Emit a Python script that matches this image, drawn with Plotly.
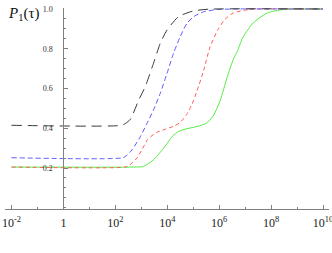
import plotly.graph_objects as go

# log10(tau) exponents and P1 values
black_exp = [-2, 2.25, 2.4, 2.58, 2.9, 3.15, 3.47, 3.73, 3.99, 4.43, 5.0, 5.6, 10]
black_p = [0.415, 0.415, 0.425, 0.445, 0.542, 0.609, 0.727, 0.827, 0.894, 0.961, 0.99, 0.999, 1.0]

blue_exp = [-2, 2.3, 2.45, 2.64, 2.96, 3.22, 3.47, 3.73, 3.99, 4.24, 4.5, 4.76, 5.01, 5.4, 5.91, 6.6, 10]
blue_p = [0.252, 0.252, 0.265, 0.291, 0.357, 0.425, 0.492, 0.576, 0.676, 0.777, 0.861, 0.928, 0.961, 0.986, 0.997, 1.0, 1.0]

red_exp = [-2, 2.38, 2.55, 2.83, 3.04, 3.25, 3.6, 3.92, 4.25, 4.5, 4.75, 4.95, 5.15, 5.4, 5.65, 5.97, 6.2, 6.54, 7.19, 8, 10]
red_p = [0.205, 0.205, 0.215, 0.25, 0.296, 0.345, 0.38, 0.395, 0.41, 0.43, 0.47, 0.52, 0.59, 0.69, 0.81, 0.9, 0.945, 0.98, 0.998, 1.0, 1.0]

green_exp = [-2, 2.7, 3.08, 3.46, 3.86, 4.2, 4.45, 4.76, 5.19, 5.5, 5.77, 6.04, 6.31, 6.54, 6.69, 6.92, 7.31, 7.85, 8.46, 9.0, 10]
green_p = [0.205, 0.205, 0.208, 0.24, 0.3, 0.36, 0.385, 0.398, 0.41, 0.425, 0.462, 0.54, 0.658, 0.745, 0.785, 0.859, 0.93, 0.98, 0.997, 1.0, 1.0]

x_tick_exp = [-2, 0, 2, 4, 6, 8, 10]
x_tick_text = ["10<sup>-2</sup>", "1", "10<sup>2</sup>", "10<sup>4</sup>",
               "10<sup>6</sup>", "10<sup>8</sup>", "10<sup>10</sup>"]
x_minor_exp = [-1, 1, 3, 5, 7, 9]
y_ticks = [0.2, 0.4, 0.6, 0.8, 1.0]
y_tick_text = ["0.2", "0.4", "0.6", "0.8", "1.0"]

serif = "Liberation Serif, Times New Roman, serif"
XR = [-2.25, 10.23]

def tau(exps):
    return [10 ** e for e in exps]

fig = go.Figure()
series = [
    (green_exp, green_p, "#55ee44", "solid"),
    (red_exp, red_p, "#ff5c5c", "4px,3px"),
    (blue_exp, blue_p, "#5c5cff", "5px,3px"),
    (black_exp, black_p, "#3a3a3a", "10px,6px"),
]
for ex, p, col, dash in series:
    fig.add_trace(go.Scatter(
        x=tau(ex), y=p, mode="lines",
        line=dict(color=col, width=1, dash=dash, shape="spline", smoothing=0.6),
        showlegend=False, hoverinfo="skip"))

ypos = (0 - XR[0]) / (XR[1] - XR[0])

fig.update_layout(
    width=332, height=253,
    margin=dict(l=5, r=3, t=8, b=44, autoexpand=False),
    paper_bgcolor="white", plot_bgcolor="white",
    font=dict(family=serif, color="#222"),
    xaxis=dict(
        type="log", range=XR, showgrid=False, zeroline=False,
        showline=True, linecolor="#808080", linewidth=1,
        ticks="inside", ticklen=4, tickcolor="#808080", tickwidth=1,
        tickmode="array", tickvals=tau(x_tick_exp), ticktext=x_tick_text,
        tickfont=dict(size=12, family=serif, color="#222"),
        ticklabelstandoff=3, ticklabeloverflow="allow", automargin=False,
        minor=dict(tickmode="array", tickvals=tau(x_minor_exp), ticks="inside",
                   ticklen=2, tickcolor="#808080", showgrid=False),
        anchor="y",
    ),
    yaxis=dict(
        range=[-0.006, 1.005], showgrid=False, zeroline=False,
        showline=True, linecolor="#808080", linewidth=1,
        ticks="inside", ticklen=4, tickcolor="#808080", tickwidth=1,
        tickmode="array", tickvals=y_ticks, ticktext=y_tick_text,
        tickfont=dict(size=8, family=serif, color="#333"),
        ticklabelstandoff=9, ticklabeloverflow="allow", automargin=False,
        minor=dict(dtick=0.05, tick0=0, ticks="inside", ticklen=2,
                   tickcolor="#808080", showgrid=False),
        anchor="free", position=ypos,
    ),
    annotations=[dict(
        text="<i>P</i><sub>1</sub>(τ)", xref="paper", yref="paper",
        x=(6 - 5) / 324, y=(209 - 14) / 201, xanchor="left", yanchor="middle",
        showarrow=False, font=dict(family=serif, size=15, color="#111"))],
)

fig.write_html("out.html", config={"displayModeBar": False},
               post_script="document.body.style.margin='0';document.body.style.padding='0';")
